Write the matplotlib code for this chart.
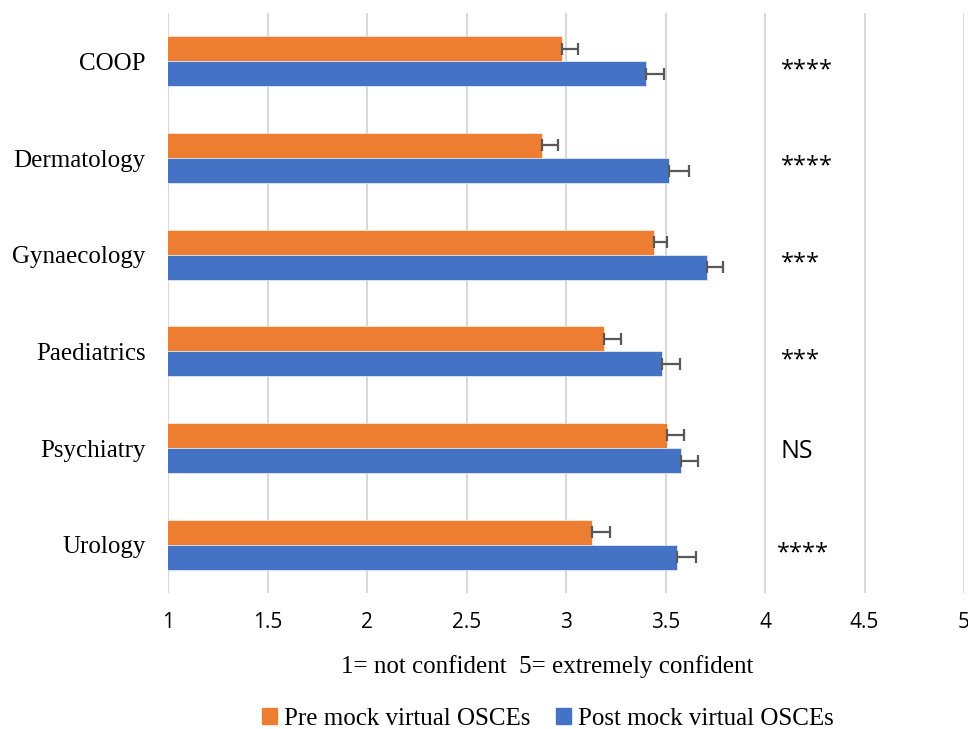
import matplotlib.pyplot as plt
import numpy as np
from matplotlib.patches import Patch

categories = ["COOP", "Dermatology", "Gynaecology", "Paediatrics", "Psychiatry", "Urology"]
pre_means = [2.98, 2.88, 3.44, 3.19, 3.51, 3.13]
pre_err = [0.08, 0.08, 0.07, 0.085, 0.085, 0.09]
post_means = [3.40, 3.52, 3.71, 3.48, 3.58, 3.56]
post_err = [0.09, 0.10, 0.08, 0.095, 0.085, 0.095]
significance = ["****", "****", "***", "***", "NS", "****"]

ORANGE = "#ED7D31"
BLUE = "#4472C4"
SERIF = "Liberation Serif"
SANS = "Open Sans"


def main():
    fig = plt.figure(figsize=(9.68, 7.29), dpi=100)
    ax = fig.add_axes([168 / 968, 1 - 593 / 729, 796 / 968, 580 / 729])

    y = np.arange(len(categories))
    h = 0.26
    err_kw = dict(ecolor="#595959", elinewidth=1.6, capsize=4.5, capthick=1.6)

    ax.barh(y - h / 2, pre_means, height=h, left=0, color=ORANGE,
            xerr=[np.zeros(len(pre_err)), pre_err], error_kw=err_kw,
            edgecolor="white", linewidth=0.4, zorder=3)
    ax.barh(y + h / 2, post_means, height=h, left=0, color=BLUE,
            xerr=[np.zeros(len(post_err)), post_err], error_kw=err_kw,
            edgecolor="white", linewidth=0.4, zorder=3)

    # asterisks sit high in the font, so nudge them down a bit
    for i, label in enumerate(significance):
        x = 4.06 if i == len(categories) - 1 else 4.08
        if label == "NS":
            ax.text(x, y[i] + 0.04, label, ha="left", va="center",
                    fontsize=18, family=SANS, color="black")
        else:
            ax.text(x, y[i] + 0.09, label, ha="left", va="center",
                    fontsize=17, family=SANS, color="black")

    ax.set_xlim(1, 5)
    ax.set_ylim(len(categories) - 0.5, -0.5)
    ax.set_xticks(np.arange(1, 5.01, 0.5))
    ax.set_xticklabels(["1", "1.5", "2", "2.5", "3", "3.5", "4", "4.5", "5"],
                       family=SANS, fontsize=15)
    ax.set_yticks(y)
    ax.set_yticklabels(categories, family=SERIF, fontsize=18)
    ax.tick_params(axis="both", length=0)
    ax.tick_params(axis="x", pad=14)
    ax.tick_params(axis="y", pad=16)
    ax.grid(axis="x", color="#d9d9d9", linewidth=1.5, zorder=0)
    ax.set_axisbelow(True)
    for spine in ax.spines.values():
        spine.set_visible(False)

    fig.text(547 / 968, 1 - 667 / 729, "1= not confident  5= extremely confident",
             ha="center", va="center", family=SERIF, fontsize=18)

    handles = [Patch(color=ORANGE, label="Pre mock virtual OSCEs"),
               Patch(color=BLUE, label="Post mock virtual OSCEs")]
    fig.legend(handles=handles, loc="center", bbox_to_anchor=(548 / 968, 1 - 719 / 729),
               ncol=2, frameon=False, prop={"family": SERIF, "size": 18},
               handlelength=0.6, handleheight=0.6, handletextpad=0.3, columnspacing=1.0,
               borderpad=0)

    fig.savefig("out.png", dpi=100)


if __name__ == "__main__":
    main()
